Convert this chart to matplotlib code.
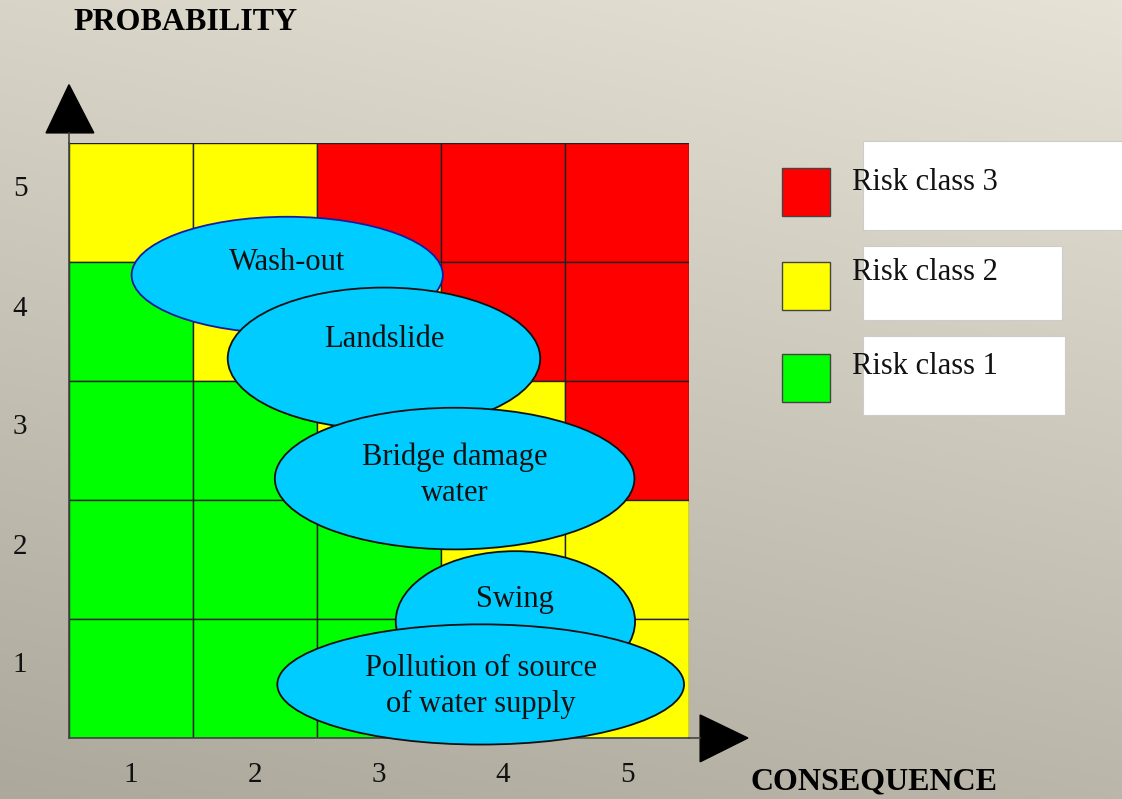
import matplotlib
matplotlib.use("Agg")
import matplotlib.pyplot as plt
from matplotlib.patches import Ellipse, Rectangle, Polygon
import numpy as np

plt.rcParams['font.family'] = ['Liberation Serif', 'DejaVu Serif']

# risk matrix: rows = probability 5..1 (top to bottom), cols = consequence 1..5
consequence = [1, 2, 3, 4, 5]
probability = [1, 2, 3, 4, 5]
risk_grid = [
    [2, 2, 3, 3, 3],   # prob 5
    [1, 2, 2, 3, 3],   # prob 4
    [1, 1, 2, 2, 3],   # prob 3
    [1, 1, 1, 2, 2],   # prob 2
    [1, 1, 1, 1, 2],   # prob 1
]
class_colors = {1: '#00ff00', 2: '#ffff00', 3: '#ff0000'}
classes = [3, 2, 1]
class_labels = ['Risk class 3', 'Risk class 2', 'Risk class 1']

# events (centre on consequence/probability scale, extent in cells)
events = ['Wash-out', 'Landslide', 'Bridge damage\nwater', 'Swing',
          'Pollution of source\nof water supply']
ev_cons = [2.26, 3.04, 3.61, 4.10, 3.82]
ev_prob = [4.39, 3.69, 2.68, 1.48, 0.95]
ev_w = [2.51, 2.52, 2.90, 1.93, 3.28]
ev_h = [0.98, 1.19, 1.19, 1.18, 1.01]
ev_txt_dy = [0.11, 0.16, 0.03, 0.18, -0.02]
ev_edge = ['#1a1aa0', '#111111', '#111111', '#111111', '#111111']
ev_z = [3, 4, 6, 5, 7]

W, H = 1122, 799
fig = plt.figure(figsize=(W / 100, H / 100), dpi=100)

# background gradient
bg = fig.add_axes([0, 0, 1, 1], zorder=-10)
tl = np.array([216, 212, 199]); tr = np.array([230, 227, 214])
bl = np.array([172, 168, 155]); br = np.array([186, 182, 169])
yy, xx = np.mgrid[0:1:200j, 0:1:300j]
img = (tl * ((1 - xx) * (1 - yy))[..., None] + tr * (xx * (1 - yy))[..., None]
       + bl * ((1 - xx) * yy)[..., None] + br * (xx * yy)[..., None]) / 255
bg.imshow(img, aspect='auto', extent=[0, 1, 0, 1])
bg.axis('off')

ax = fig.add_axes([69 / W, 61 / H, 620 / W, 595 / H])
ax.set_xlim(0.5, 5.5)
ax.set_ylim(0.5, 5.5)
ax.patch.set_alpha(0)

for r, row in enumerate(risk_grid):
    p = probability[::-1][r]
    for c, cls in enumerate(row):
        ax.add_patch(Rectangle((consequence[c] - 0.5, p - 0.5), 1, 1,
                               facecolor=class_colors[cls], edgecolor='#222222',
                               linewidth=1.0, zorder=1))

for name, x, y, w, h, dy, ec, z in zip(events, ev_cons, ev_prob, ev_w, ev_h,
                                       ev_txt_dy, ev_edge, ev_z):
    ax.add_patch(Ellipse((x, y), w, h, facecolor='#00ccff', edgecolor=ec,
                         linewidth=1.3, zorder=z, clip_on=False))
    ax.text(x, y + dy, name, ha='center', va='center', fontsize=22,
            color='#111111', zorder=z, linespacing=1.32)

for s in ['top', 'right']:
    ax.spines[s].set_visible(False)
for s in ['left', 'bottom']:
    ax.spines[s].set_color('#444444')
    ax.spines[s].set_linewidth(1.2)

ax.set_xticks(consequence)
ax.set_yticks(probability)
ax.tick_params(length=0, labelsize=21, colors='#111111')
ax.tick_params(axis='x', pad=17)
ax.tick_params(axis='y', pad=30)
for lbl in ax.get_yticklabels():
    lbl.set_verticalalignment('bottom')

# axis arrows
ax.plot([0, 0], [1.0, 1.017], transform=ax.transAxes, color='#444444',
        lw=1.2, clip_on=False)
ax.plot([1.0, 1.018], [0, 0], transform=ax.transAxes, color='#444444',
        lw=1.2, clip_on=False)
ax.add_patch(Polygon([[-0.037, 1.017], [0.040, 1.017], [0.0, 1.098]],
                     closed=True, color='black', transform=ax.transAxes,
                     clip_on=False))
ax.add_patch(Polygon([[1.018, 0.0387], [1.018, -0.040], [1.095, 0.0]],
                     closed=True, color='black', transform=ax.transAxes,
                     clip_on=False))

fig.text(73 / W, 1 - 22 / H, 'PROBABILITY', fontsize=23, fontweight='bold',
         ha='left', va='center')
fig.text(750 / W, 1 - 782 / H, 'CONSEQUENCE', fontsize=23, fontweight='bold',
         ha='left', va='center')

# legend
box_w = [259, 199, 202]
box_top = [141, 246, 336]
box_h = [89, 74, 79]
sq_top = [168, 262, 354]
txt_y = [183, 272, 366]
for cls, lab, bw, bt, bh, st, ty in zip(classes, class_labels, box_w, box_top,
                                        box_h, sq_top, txt_y):
    fig.patches.append(Rectangle((863 / W, 1 - (bt + bh) / H), bw / W, bh / H,
                                 facecolor='white', edgecolor='#cccccc', lw=0.8,
                                 transform=fig.transFigure, figure=fig))
    fig.patches.append(Rectangle((782 / W, 1 - (st + 48) / H), 48 / W, 48 / H,
                                 facecolor=class_colors[cls], edgecolor='#444444',
                                 lw=1.0, transform=fig.transFigure, figure=fig))
    fig.text(852 / W, 1 - ty / H, lab, fontsize=22, ha='left', va='center',
             color='#111111')

fig.savefig('out.png', dpi=100)
